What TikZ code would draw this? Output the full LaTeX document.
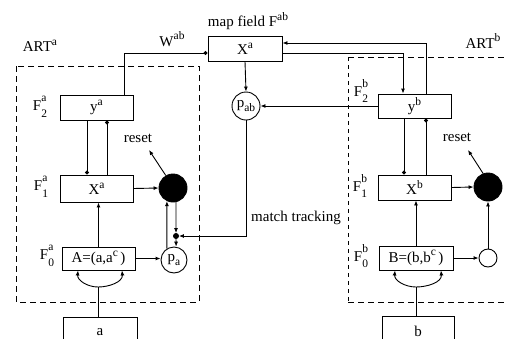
\documentclass[tikz,border=0pt]{standalone}
\usepackage{fontspec}
\setmainfont{Liberation Serif}
\usetikzlibrary{arrows.meta}
\newcommand\supx[1]{\raisebox{0.42em}{\fontsize{11.5}{12}\selectfont #1}}
\newcommand\subx[1]{\raisebox{-0.22em}{\fontsize{11.5}{12}\selectfont #1}}
\newcommand\Fst[2]{F\makebox[0pt][l]{\raisebox{0.6em}{\fontsize{11.5}{12}\selectfont #1}}\raisebox{-0.45em}{\fontsize{11.5}{12}\selectfont #2}}
\begin{document}
\begin{tikzpicture}[x=1pt,y=-1pt, font=\fontsize{15}{17}\selectfont, line width=0.9pt,
 box/.style={draw, minimum width=73pt, minimum height=25pt, inner sep=0pt},
 circ/.style={draw, circle, inner sep=0pt},
 arr/.style={-{Latex[length=5pt,width=4pt]}},
 dotarr/.style={-{Circle[length=4pt]}},
 region/.style={draw, dash pattern=on 6pt off 4pt, line width=1pt},
 dotregion/.style={draw, dash pattern=on 4pt off 4pt, line width=1pt},
 lbl/.style={inner sep=0pt}]
\clip (0,0) rectangle (506,338);
% regions
\draw[region] (16,66) rectangle (199,302);
\draw[region] (348,57) -- (520,57);
\draw[region] (348,302) -- (520,302);
\draw[dotregion] (348,57) -- (348,302);
% boxes
\node[box, minimum height=25pt] (ya) at (96.5,107.5) {y\supx{a}};
\node[box, minimum height=27pt] (xa) at (96.5,188.5) {X\supx{a}};
\node[box, minimum height=23pt] (A) at (98.5,258.5) {A=(a,a\supx{c}\,)};
\node[box, minimum width=74pt, minimum height=30pt] (ain) at (100,332) {a};
\node[box, minimum width=74pt] (map) at (245,48.5) {X\supx{a}};
\node[box, minimum height=24pt] (yb) at (414.5,106) {y\supx{b}};
\node[box] (xb) at (414.5,187.5) {X\supx{b}};
\node[box, minimum width=74pt, minimum height=24pt] (B) at (416,258) {B=(b,b\supx{c}\,)};
\node[box, minimum width=72pt, minimum height=30pt] (bin) at (418,331) {b};
% circles
\node[circ, fill=black, minimum size=28pt] (ra) at (173,188) {};
\node[circ, minimum size=26pt] (pa) at (174,260) {p\subx{a}};
\node[circ, minimum size=28pt] (pab) at (246,106) {p\subx{ab}};
\node[circ, fill=black, minimum size=28pt] (rb) at (488,187) {};
\node[circ, minimum size=18pt] (cb) at (488,258) {};
\node[circ, fill=black, minimum size=5pt] (jn) at (176,236) {};
% coordinates
\coordinate (ja) at (98,287);
\coordinate (jb) at (416,287);
\coordinate (rat) at (149,150);
\coordinate (rbt) at (468,150);
% connectors
\draw[dotarr] ([xshift=-9pt]ya.north east) |- ([yshift=-4.5pt]map.west);
\draw[arr] (map.south) -- (pab.north);
\draw[arr] (yb.west) -- (pab.east);
\draw[arr] ([xshift=-25pt]yb.north east) |- ([yshift=5.5pt]map.east);
\draw[arr] ([yshift=-4.5pt]map.east) -| ([xshift=-11.5pt]yb.north);
\draw[dotarr] ([xshift=-9.5pt]ya.south) -- ([xshift=-9.5pt]xa.north);
\draw[dotarr] ([xshift=10.5pt]xa.north) -- ([xshift=10.5pt]ya.south);
\draw[dotarr] ([xshift=-10.5pt]yb.south) -- ([xshift=-10.5pt]xb.north);
\draw[dotarr] ([xshift=11.5pt]xb.north) -- ([xshift=11.5pt]yb.south);
\draw[arr] (A.north) -- (A.north |- xa.south);
\draw[arr] (B.north) -- (B.north |- xb.south);
\draw[arr] (xa.east) -- (ra.west);
\draw[arr] (xb.east) -- (rb.west);
\draw[arr] (A.east) -- (A.east -| pa.west);
\draw[arr] (B.east) -- (cb.west);
\draw[arr] (pa.122) -- (ra.245);
\draw[arr] (ra.282) -- (jn);
\draw[arr] (jn) -- (pa.81);
\draw[arr] (pab.south) |- (jn);
\draw[arr] (cb.north) -- (rb.south);
\draw[arr] (ra.120) -- (rat);
\draw[arr] (rb.110) -- (rbt);
\draw (ain.north -| ja) -- (ja);
\draw[arr] (ja) to[out=180,in=-95] ([xshift=-20.5pt]A.south);
\draw[arr] (ja) to[out=0,in=-85] ([xshift=23.5pt]A.south);
\draw (bin.north -| jb) -- (jb);
\draw[arr] (jb) to[out=180,in=-95] ([xshift=-21pt]B.south);
\draw[arr] (jb) to[out=0,in=-85] ([xshift=25pt]B.south);
% labels
\node[lbl] (arta) at (40,46) {ART\supx{a}};
\node[lbl] (wab) at (172,39) {W\supx{ab}};
\node[lbl] (mapl) at (248,21) {map field F\supx{ab}};
\node[lbl] (artb) at (483,41) {ART\supx{b}};
\node[lbl] (rsa) at (138,138) {reset};
\node[lbl] (rsb) at (457,137) {reset};
\node[lbl] (mt) at (296,218) {match tracking};
\node[lbl] (f2a) at (40,107) {\Fst{a}{2}};
\node[lbl] (f1a) at (41,187) {\Fst{a}{1}};
\node[lbl] (f0a) at (47,256) {\Fst{a}{0}};
\node[lbl] (f2b) at (361,91) {\Fst{b}{2}};
\node[lbl] (f1b) at (360,186) {\Fst{b}{1}};
\node[lbl] (f0b) at (361,256) {\Fst{b}{0}};
\end{tikzpicture}
\end{document}
